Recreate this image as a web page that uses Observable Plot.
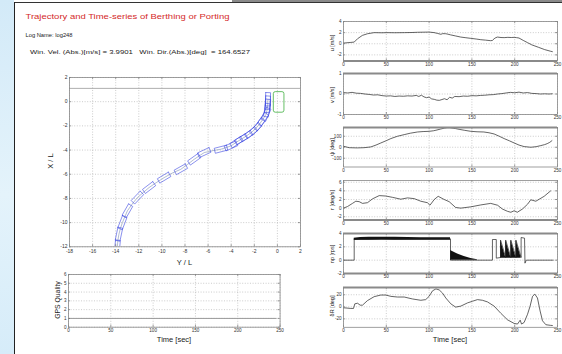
<!DOCTYPE html>
<html><head><meta charset="utf-8">
<script src="https://cdn.jsdelivr.net/npm/d3@7"></script>
<script src="https://cdn.jsdelivr.net/npm/@observablehq/plot@0.6"></script>
<style>
html,body{margin:0;padding:0;background:#fff;}
#page{position:relative;width:562px;height:354px;overflow:hidden;background:#fff;font-family:"Liberation Sans",Arial,sans-serif;}
#leftstrip{position:absolute;left:0;top:0;width:14px;height:354px;background:linear-gradient(to bottom,#d3eaf8,#e4f3fb 55%,#d6ecf9);}
#leftline{position:absolute;left:13.5px;top:2px;width:1.3px;height:352px;background:#222;}
#topline{position:absolute;left:14px;top:2px;width:548px;height:1.2px;background:#333;}
#topgray{position:absolute;left:232px;top:0;width:330px;height:2.5px;background:#8a8a8a;}
svg text{font-family:"Liberation Sans",Arial,sans-serif;}
</style>
</head><body>
<div id="page">
<div id="leftstrip"></div><div id="topgray"></div><div id="topline"></div><div id="leftline"></div>
<svg id="txt" width="562" height="354" style="position:absolute;left:0;top:0">
<text x="25.5" y="19" font-size="8" fill="#d42a2a" textLength="204" lengthAdjust="spacingAndGlyphs">Trajectory and Time-series of Berthing or Porting</text>
<text x="25.5" y="36.5" font-size="6.2" fill="#222" textLength="47" lengthAdjust="spacingAndGlyphs">Log Name: log248</text>
<text x="30" y="53.5" font-size="6" fill="#222" style="white-space:pre" textLength="220" lengthAdjust="spacingAndGlyphs">Win. Vel. (Abs.)[m/s] = 3.9901   Win. Dir.(Abs.)[deg]  = 164.6527</text>
<text transform="translate(52.5,161) rotate(-90)" text-anchor="middle" font-size="7.5" fill="#222">X / L</text>
<text x="184.5" y="264.5" text-anchor="middle" font-size="7.5" fill="#222">Y / L</text>
<text transform="translate(59.5,300) rotate(-90)" text-anchor="middle" font-size="6.8" fill="#222">GPS Quality</text>
<text x="174" y="341.5" text-anchor="middle" font-size="7.5" fill="#222">Time [sec]</text>
<text x="450" y="342" text-anchor="middle" font-size="7.5" fill="#222">Time [sec]</text>
<text transform="translate(334,43) rotate(-90)" text-anchor="middle" font-size="5.5" fill="#222">u [m/s]</text>
<text transform="translate(334,95) rotate(-90)" text-anchor="middle" font-size="5.5" fill="#222">v [m/s]</text>
<text transform="translate(334,147) rotate(-90)" text-anchor="middle" font-size="5.5" fill="#222">ψ [deg]</text>
<text transform="translate(334,200) rotate(-90)" text-anchor="middle" font-size="5.5" fill="#222">r [deg/s]</text>
<text transform="translate(334,254) rotate(-90)" text-anchor="middle" font-size="5.5" fill="#222">np [rps]</text>
<text transform="translate(334,306) rotate(-90)" text-anchor="middle" font-size="5.5" fill="#222">δR [deg]</text>
</svg>
</div>
<script>
// ---------- data ----------
const trajTicksX = [-18,-16,-14,-12,-10,-8,-6,-4,-2,0,2];
const trajTicksY = [-12,-10,-8,-6,-4,-2,0,2];
const trajY = [-13.86,-13.8,-13.72,-13.6,-13.42,-13.2,-12.99,-12.6,-12.12,-11.6,-11.11,-10.5,-9.81,-9.1,-8.36,-7.8,-7.2,-6.34,-5.6,-4.89,-4.02,-3.55,-3.15,-2.7,-2.28,-1.9,-1.56,-1.25,-0.98,-0.9,-0.85,-0.83,-0.82];
const trajX = [-12.0,-11.4,-10.96,-10.5,-10.0,-9.5,-9.03,-8.5,-7.93,-7.5,-7.1,-6.7,-6.28,-5.9,-5.59,-5.2,-4.76,-4.21,-4.05,-3.93,-3.66,-3.35,-3.11,-2.85,-2.56,-2.25,-1.87,-1.45,-1.04,-0.7,-0.35,-0.08,0.2];
const shipIdx = [0,2,4,6,8,10,12,14,16,17,19,20,21,22,23,24,25,26,27,28,29,30,31,32];
const shipLen = 1.1, shipBreadth = 0.42;
const quayX = 1.1;
const berthY = 0.15, berthX = -0.06, berthLen = 1.7, berthBreadth = 0.92;

const timeTicks = [0,50,100,150,200,250];
const gpsTicks = [0,1,2,3,4,5,6];
const gpsT = [0,245], gpsV = [1,1];

const uT = [0,8.6,12.5,16.4,22,28,35.8,45,51,60,71,80,86.4,93,100,106,110,113.7,116,119.5,122,125,131,137,143,148.8,155,160.4,166,172,174,176,178,180,184,187.7,192,196,199.4,202,205,210,215,220,228,235,242,244];
const uV = [0.12,0.24,0.3,0.9,1.5,1.8,2.0,1.97,2.0,1.98,2.0,2.02,2.06,2.08,2.1,2.0,1.85,1.7,1.82,1.8,1.72,1.6,1.4,1.2,1.08,0.97,0.85,0.73,0.65,0.55,0.6,0.9,1.1,1.2,1.12,1.1,1.15,1.12,1.15,1.1,1.03,0.6,0.2,-0.2,-0.65,-1.05,-1.35,-1.42];

const vT = [0,5,10,15,20,25,30,35,40,45,50,55,60,65,70,75,80,85,88,91,94,97,100,103,106,109,112,115,118,121,124,127,130,135,140,145,150,155,160,165,170,175,180,185,190,195,200,205,210,215,220,225,230,235,240,244];
const vV = [0.07,0.05,0.08,0.04,0.03,0.0,-0.02,-0.05,-0.04,-0.08,-0.1,-0.09,-0.12,-0.1,-0.11,-0.09,-0.1,-0.07,-0.12,-0.06,-0.14,-0.18,-0.15,-0.24,-0.26,-0.3,-0.31,-0.27,-0.23,-0.28,-0.16,-0.2,-0.12,-0.13,-0.1,-0.11,-0.08,-0.09,-0.07,-0.06,-0.04,-0.03,0.0,0.02,0.05,0.08,0.06,0.09,0.05,0.07,0.03,0.02,0.0,0.01,0.0,0.01];

const psiT = [0,6.6,16,24,32,38,43.6,50,55.3,63,70.9,78,86.4,93,100,105,108,113,117.6,121,124,128,131,136,141,148.8,156,164,170,176,182,187.7,194,199.4,205,211,218.8,225,230.5,235,238,241,243.5];
const psiV = [9,-4,-6,-4,3,20,39,60,79,100,115,128,139,143,145,150,155,165,174,178,178,174,170,162,155,145,141,139,132,121,100,79,58,39,20,6,0,5,15,24,33,45,60];

const rT = [0,4.7,10.5,14.4,18.3,22.2,28,33.9,41.7,49.5,57.2,67,74.8,82.6,90.3,98,101,106,110.6,117.6,123.4,131,137,148.8,160.4,172,180,185.7,191.6,195.5,199.4,203,209,215,218.8,224.7,234.4,242];
const rV = [0,0.37,1.1,1.6,1.5,1.1,1.26,2.15,2.9,2.8,2.5,2.07,2.37,2.2,1.6,1.26,0.67,2.0,2.74,2.0,1.5,0.15,0,0.3,0.74,1.1,0.67,-0.22,-0.74,-0.96,-0.6,-0.96,-0.22,0.9,1.93,1.6,2.74,4.0];

const npT = [0,12.5,12.5,125,125,174,174,178.5,178.5,183.5,183.5,189.5,189.5,195.5,195.5,201.5,201.5,207.5,207.5,211.5,212,213.5,245];
const npV = [0,0,3.1,3.2,0,0,3.1,3.1,0.3,0.4,3.0,0.4,3.0,0.4,3.0,0.4,3.0,0.4,3.4,3.3,-0.45,0,0];
const npBandT = [12.5,20,30,45,60,75,90,105,125];
const npBandLo = [2.95,3.0,3.0,3.02,3.0,3.0,3.0,3.0,3.0];
const npBandHi = [3.3,3.4,3.45,3.45,3.42,3.4,3.38,3.36,3.35];
const npWedgeT = [125,133.2,141,148.8,156.5];
const npWedgeHi = [1.44,0.92,0.56,0.26,0.05];
const npPulseT = [183.5,189.5,189.5,195.5,195.5,201.5,201.5,207.5];
const npPulseHi = [3.0,0.4,3.0,0.4,3.0,0.4,3.0,0.4];

const dT = [0,8.6,11.7,13.2,16.4,19.5,22.2,28,35.8,43.6,49.5,55.3,63,70.9,80.6,90.3,96,100,104,108,111.8,115.7,119.5,125.4,131,137,144.9,150.7,156.5,162.4,168.2,176,183.8,191.6,199.4,203.3,206.4,208,211,215,218,220.8,223.5,226.6,229.7,232.5,236.4,242,244];
const dV = [-1.6,-2.7,-2.7,4.9,5.9,2.7,2.7,10.3,16.8,19.5,19.5,17.3,16.2,16.2,13,10.8,11.9,17.3,26.5,29.7,28,22.7,14.6,4.9,-0.5,1.1,6.5,9.2,11.9,10.8,8.1,1.1,-10.8,-21.6,-27.6,-28.6,-22.2,-28.6,-26,-12.4,1.1,17.3,21,14.6,-7,-23.2,-29.7,-30.8,-31];

// ---------- helpers ----------
const page = document.getElementById("page");
const FONT = '"Liberation Sans", Arial, sans-serif';
function panel({left, top, w, h, xDomain, yDomain, xTicks, yTicks, marks, fs = 4.6, xdy = 4.6, thick = []}) {
  const mL = 24, mR = 12, mT = 6, mB = 12;
  const [x0, x1] = xDomain, [y0, y1] = yDomain;
  const ty = (y1 - y0) * 2 / h, tx = (x1 - x0) * 2 / w;
  const tickStyle = {stroke: "#555", strokeWidth: 0.6};
  const grid = {stroke: "#aaa", strokeWidth: 0.6, strokeDasharray: "1,1.6"};
  const svg = Plot.plot({
    width: w + mL + mR, height: h + mT + mB,
    marginLeft: mL, marginRight: mR, marginTop: mT, marginBottom: mB,
    x: {domain: xDomain, axis: null}, y: {domain: yDomain, axis: null},
    style: {background: "transparent", overflow: "visible", fontFamily: FONT},
    marks: [
      Plot.ruleX(xTicks, {x: d => d, ...grid}),
      Plot.ruleY(yTicks, {y: d => d, ...grid}),
      ...marks,
      Plot.ruleX(xTicks, {x: d => d, y1: y0, y2: y0 + ty, ...tickStyle}),
      Plot.ruleX(xTicks, {x: d => d, y1: y1, y2: y1 - ty, ...tickStyle}),
      Plot.ruleY(yTicks, {y: d => d, x1: x0, x2: x0 + tx, ...tickStyle}),
      Plot.ruleY(yTicks, {y: d => d, x1: x1, x2: x1 - tx, ...tickStyle}),
      Plot.frame({stroke: "#888", strokeWidth: 0.8}),
      Plot.ruleY(thick, {y: d => d, stroke: "#8a8a8a", strokeWidth: 1.8}),
      Plot.text(xTicks, {x: d => d, text: d => String(d), frameAnchor: "bottom", dy: xdy, fontSize: fs, fill: "#333"}),
      Plot.text(yTicks, {y: d => d, text: d => String(d), frameAnchor: "left", textAnchor: "end", dx: -2, fontSize: fs, fill: "#333"})
    ]
  });
  svg.style.position = "absolute";
  svg.style.left = (left - mL) + "px";
  svg.style.top = (top - mT) + "px";
  page.appendChild(svg);
}

// ---------- trajectory ----------
const boxes = [];
shipIdx.forEach(i => {
  const y = trajY[i];
  const j0 = Math.max(0, i - 1), j1 = Math.min(trajY.length - 1, i + 1);
  const dy = trajY[j1] - trajY[j0], dx = trajX[j1] - trajX[j0];
  const n = Math.hypot(dy, dx), uy = dy / n, ux = dx / n, py = -ux, px = uy;
  const hl = shipLen / 2, hb = shipBreadth / 2;
  [[hl, hb], [hl, -hb], [-hl, -hb], [-hl, hb], [hl, hb]].forEach(([a, b]) =>
    boxes.push({id: i, Y: y + a * uy + b * py, X: trajX[i] + a * ux + b * px}));
});
const berth = [{y1: berthY - berthBreadth / 2, y2: berthY + berthBreadth / 2, x1: berthX - berthLen / 2, x2: berthX + berthLen / 2}];

panel({left: 69, top: 76.7, w: 231, h: 169.3, xDomain: [-18, 2], yDomain: [-12, 2],
  xTicks: trajTicksX, yTicks: trajTicksY, fs: 5, xdy: 6,
  marks: [
    Plot.ruleY([quayX], {y: d => d, stroke: "#999", strokeWidth: 0.8}),
    Plot.line(trajY, {x: trajY, y: trajX, stroke: "#7d8fb0", strokeWidth: 0.6, clip: true}),
    Plot.line(boxes, {x: "Y", y: "X", z: "id", stroke: "#3b46e0", strokeWidth: 0.6, clip: true}),
    Plot.rect(berth, {x1: "y1", x2: "y2", y1: "x1", y2: "x2", fill: "none", stroke: "#3fae3f", strokeWidth: 0.8, rx: 2})
  ]});

// ---------- GPS ----------
panel({left: 67.7, top: 274, w: 211.6, h: 52.7, xDomain: [0, 250], yDomain: [0, 6],
  xTicks: timeTicks, yTicks: gpsTicks, fs: 4.6, xdy: 5,
  marks: [Plot.line(gpsT, {x: gpsT, y: gpsV, stroke: "#999", strokeWidth: 1})]});

// ---------- time series ----------
const RX = 342.7, RW = 214, RH = 39.5;
const line = (T, V) => Plot.line(T, {x: T, y: V, stroke: "#222", strokeWidth: 0.7});
panel({left: RX, top: 21, w: RW, h: RH, xDomain: [0, 250], yDomain: [-3.1, 4], xTicks: timeTicks, yTicks: [-2, 0, 2, 4], thick: [-3.1], marks: [line(uT, uV)]});
panel({left: RX, top: 73.3, w: RW, h: 41, xDomain: [0, 250], yDomain: [-1, 1], xTicks: timeTicks, yTicks: [-1, 0, 1], thick: [1], marks: [line(vT, vV)]});
panel({left: RX, top: 127.3, w: RW, h: RH, xDomain: [0, 250], yDomain: [-180, 180], xTicks: timeTicks, yTicks: [-100, 0, 100], thick: [180], marks: [line(psiT, psiV)]});
panel({left: RX, top: 180, w: RW, h: RH, xDomain: [0, 250], yDomain: [-2.75, 6.4], xTicks: timeTicks, yTicks: [-2, 0, 2, 4, 6], thick: [-2.75], marks: [line(rT, rV)]});
panel({left: RX, top: 233.3, w: RW, h: 40, xDomain: [0, 250], yDomain: [-2, 4], xTicks: timeTicks, yTicks: [-2, 0, 2, 4], thick: [-2, 4], marks: [
  Plot.areaY(npBandT, {x: npBandT, y1: npBandLo, y2: npBandHi, fill: "#111"}),
  Plot.areaY(npWedgeT, {x: npWedgeT, y1: 0, y2: npWedgeHi, fill: "#111"}),
  Plot.areaY(npPulseT, {x: npPulseT, y1: 0.3, y2: npPulseHi, fill: "#111"}),
  line(npT, npV)]});
panel({left: RX, top: 286.7, w: RW, h: 39.8, xDomain: [0, 250], yDomain: [-34, 32], xTicks: timeTicks, yTicks: [-20, 0, 20], thick: [32], marks: [line(dT, dV)]});
</script>
</body></html>
